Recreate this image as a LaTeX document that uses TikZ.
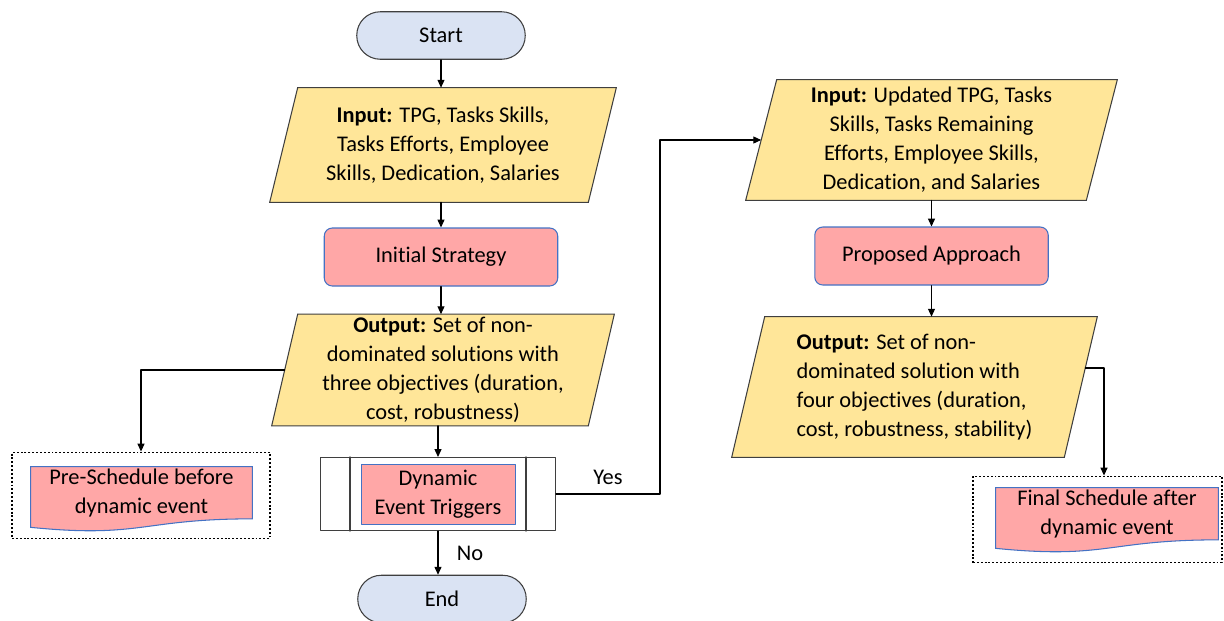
\documentclass[tikz,border=0pt]{standalone}
\usepackage{fontspec}
\setmainfont{Carlito}[Ligatures=NoCommon]
\usepackage{tikz}
\usetikzlibrary{positioning}
\usetikzlibrary{calc}
\usetikzlibrary{arrows.meta, backgrounds}

\definecolor{termblue}{HTML}{DAE3F3}
\definecolor{ioyellow}{HTML}{FFE699}
\definecolor{procred}{HTML}{FFA7A7}
\definecolor{procblue}{HTML}{4472C4}
\definecolor{edgegray}{HTML}{3F3F3F}

\begin{document}
\begin{tikzpicture}[x=0.02cm, y=-0.02cm, line cap=round, line join=round,
    font=\fontsize{12.75}{16.5}\selectfont,
    term/.style={draw=edgegray, fill=termblue, line width=0.6pt, rounded corners=0.47cm,
        minimum width=3.37cm, minimum height=0.95cm},
    proc/.style={draw=procblue, fill=procred, line width=0.6pt, rounded corners=0.16cm,
        minimum width=4.67cm, minimum height=1.16cm},
    io/.style={align=center, inner sep=0pt},
    iofill/.style={draw=edgegray, fill=ioyellow, line width=0.6pt},
    docfill/.style={draw=procblue, fill=procred, line width=0.6pt},
    doc/.style={align=center, inner sep=0pt, minimum height=1.03cm},
    dotbox/.style={draw=black, line width=1.1pt, line cap=butt, dash pattern=on 1.1pt off 1.1pt,
        minimum height=1.72cm},
    arr/.style={-{Triangle[length=4.5pt,width=4pt]}, line width=0.6pt}]
    \useasboundingbox (0,0) rectangle (1224,620);

    % left column
    \node[term] (start) at (441,35.5) {Start};
    \node[io, minimum width=6.36cm, minimum height=2.28cm] (in1) at (443,145)
        {\textbf{Input:} TPG, Tasks Skills,\\Tasks Efforts, Employee\\Skills, Dedication, Salaries};
    \node[proc] (strat) at (441,257) {Initial Strategy};
    \node[io, minimum width=6.32cm, minimum height=2.22cm] (out1) at (443,370)
        {\textbf{Output:} Set of non-\\dominated solutions with\\three objectives (duration,\\cost, robustness)};
    \node[draw=edgegray, fill=white, line width=0.6pt, minimum width=4.7cm, minimum height=1.46cm]
        (pre) at (438,494) {};
    \draw[line width=0.6pt, edgegray] ($(pre.north west)+(30,0)$) -- ($(pre.south west)+(30,0)$);
    \draw[line width=0.6pt, edgegray] ($(pre.north east)+(-30,0)$) -- ($(pre.south east)+(-30,0)$);
    \node[draw=procblue, fill=procred, line width=0.4pt, align=center,
        minimum width=3.08cm, minimum height=1.06cm] (trig) at (438,494.5) {Dynamic\\Event Triggers};
    \node[term] (end) at (442,599) {End};

    % pre-schedule
    \node[dotbox, minimum width=5.16cm] (box1) at (141,495.5) {};
    \node[doc, minimum width=4.42cm] (doc1) at (141.5,492.75) {Pre-Schedule before\\dynamic event};

    % right column
    \node[io, minimum width=6.8cm, minimum height=2.4cm] (in2) at (931.5,140)
        {\textbf{Input:} Updated TPG, Tasks\\Skills, Tasks Remaining\\Efforts, Employee Skills,\\Dedication, and Salaries};
    \node[proc] (prop) at (931.5,256) {Proposed Approach};
    \node[io, align=left, minimum width=6.64cm, minimum height=2.8cm] (out2) at (914.5,387)
        {\textbf{Output:} Set of non-\\dominated solution with\\four objectives (duration,\\cost, robustness, stability)};

    % final schedule
    \node[dotbox, minimum width=4.98cm] (box2) at (1097.5,519.5) {};
    \node[doc, minimum width=4.44cm] (doc2) at (1107,513.75) {Final Schedule after\\dynamic event};

    % branch labels
    \node (yes) at (608,477) {Yes};
    \node (no) at (470,553) {No};

    % connectors
    \draw[arr] (start.south) -- (start.south |- in1.north);
    \draw[arr] (strat.north |- in1.south) -- (strat.north);
    \draw[arr] (strat.south) -- (strat.south |- out1.north);
    \draw[arr] (pre.north |- out1.south) -- (pre.north);
    \draw[arr] (pre.south) -- (pre.south |- end.north);
    \draw[arr] (out1.west) -| (box1.north);
    \draw[arr] (pre.east) -- ++(104,0) |- (in2.west);
    \draw[arr] (prop.north |- in2.south) -- (prop.north);
    \draw[arr] (prop.south) -- (prop.south |- out2.north);
    \draw[arr] ($(out2.east)+(4.5,-19)$) -| ($(box2.north)+(6.5,0)$);

    % parallelograms and document shapes
    \begin{scope}[on background layer]
        \draw[iofill] ($(in1.north west)+(14,0)$) -- ($(in1.north east)+(14,0)$)
            -- ($(in1.south east)+(-14,0)$) -- ($(in1.south west)+(-14,0)$) -- cycle;
        \draw[iofill] ($(out1.north west)+(13,0)$) -- ($(out1.north east)+(13,0)$)
            -- ($(out1.south east)+(-13,0)$) -- ($(out1.south west)+(-13,0)$) -- cycle;
        \draw[iofill] ($(in2.north west)+(15.5,0)$) -- ($(in2.north east)+(15.5,0)$)
            -- ($(in2.south east)+(-15.5,0)$) -- ($(in2.south west)+(-15.5,0)$) -- cycle;
        \draw[iofill] ($(out2.north west)+(16.5,0)$) -- ($(out2.north east)+(16.5,0)$)
            -- ($(out2.south east)+(-16.5,0)$) -- ($(out2.south west)+(-16.5,0)$) -- cycle;
        \draw[docfill] (doc1.north west) -- (doc1.north east) -- (doc1.south east)
            .. controls (doc1.south) and ($(doc1.south)+(0,19.6)$) .. ($(doc1.south west)+(0,8.5)$) -- cycle;
        \draw[docfill] (doc2.north west) -- (doc2.north east) -- (doc2.south east)
            .. controls (doc2.south) and ($(doc2.south)+(0,19.6)$) .. ($(doc2.south west)+(0,8.5)$) -- cycle;
    \end{scope}
\end{tikzpicture}
\end{document}
